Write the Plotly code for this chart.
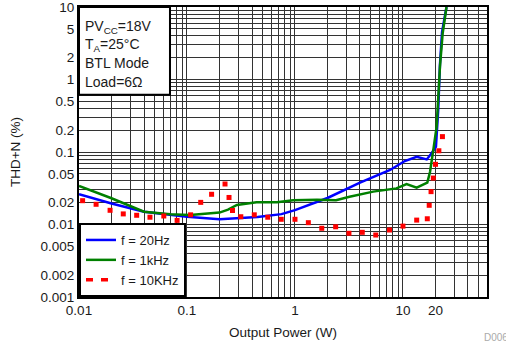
import plotly.graph_objects as go

# ---- data ----
blue_x = [0.01, 0.02, 0.04, 0.07, 0.1, 0.2, 0.3, 0.45, 0.75, 1.0, 2.0, 4.0, 7.6, 10.4, 13.4, 16.6, 18.4, 20.2, 21.2, 22.0, 23.0, 25.3]
blue_y = [0.0261, 0.0195, 0.015, 0.0137, 0.0128, 0.0118, 0.0121, 0.0127, 0.0139, 0.0158, 0.0232, 0.0378, 0.0565, 0.0751, 0.086, 0.079, 0.096, 0.118, 0.38, 1.6, 4.5, 10]

green_x = [0.01, 0.02, 0.04, 0.07, 0.107, 0.2, 0.24, 0.29, 0.44, 0.68, 0.96, 1.6, 2.4, 3.2, 5.3, 8.7, 10.8, 13.4, 16.8, 17.8, 19.1, 20.5, 22.0, 23.3, 25.3]
green_y = [0.034, 0.023, 0.015, 0.0138, 0.0135, 0.0146, 0.016, 0.0186, 0.0202, 0.0202, 0.0216, 0.022, 0.0216, 0.0242, 0.0284, 0.0315, 0.0362, 0.0322, 0.0378, 0.053, 0.107, 0.223, 1.5, 4.3, 10]

red_x = [0.0108, 0.0144, 0.0194, 0.0257, 0.0342, 0.0454, 0.061, 0.081, 0.108, 0.134, 0.169, 0.225, 0.245, 0.264, 0.315, 0.42, 0.56, 0.746, 1.0, 1.33, 1.77, 2.38, 3.16, 4.2, 5.6, 7.5, 10.0, 13.4, 16.8, 17.5, 18.2, 19.1, 20.0, 21.5, 23.2]
red_y = [0.0213, 0.019, 0.0157, 0.014, 0.0134, 0.0126, 0.0131, 0.0114, 0.0136, 0.0202, 0.0261, 0.0362, 0.0236, 0.0156, 0.0128, 0.0136, 0.0126, 0.0118, 0.0118, 0.0106, 0.00887, 0.0093, 0.00757, 0.0078, 0.00716, 0.0084, 0.0095, 0.0115, 0.012, 0.0184, 0.0284, 0.0437, 0.0676, 0.104, 0.163]

x_labels = {0.01: "0.01", 0.1: "0.1", 1: "1", 10: "10", 20: "20"}
y_labels = {0.001: "0.001", 0.002: "0.002", 0.005: "0.005", 0.01: "0.01", 0.02: "0.02",
            0.05: "0.05", 0.1: "0.1", 0.2: "0.2", 0.5: "0.5", 1: "1", 2: "2", 5: "5", 10: "10"}

series_names = ["f = 20Hz", "f = 1kHz", "f = 10KHz"]
info_lines = ["PV<sub>CC</sub>=18V", "T<sub>A</sub>=25°C", "BTL Mode", "Load=6Ω"]

# ---- grid values ----
def grid_vals(lo_dec, hi_dec, vmax):
    vals = []
    for d in range(lo_dec, hi_dec + 1):
        for m in range(1, 10):
            v = round(m * 10 ** d, 6)
            if v <= vmax + 1e-9:
                vals.append(v)
    return vals

xg = grid_vals(-2, 1, 60)
yg = grid_vals(-3, 1, 10)

def lab(v, d):
    for k, t in d.items():
        if abs(v - k) < 1e-9:
            return t
    return ""

font = "Liberation Sans, Arial, sans-serif"
tc = "#1a1a1a"

fig = go.Figure()
fig.add_trace(go.Scatter(x=blue_x, y=blue_y, mode="lines", name=series_names[0],
                         line=dict(color="#0000ff", width=2.5)))
fig.add_trace(go.Scatter(x=green_x, y=green_y, mode="lines", name=series_names[1],
                         line=dict(color="#008000", width=2.5)))
fig.add_trace(go.Scatter(x=red_x, y=red_y, mode="markers", name=series_names[2], showlegend=False,
                         marker=dict(color="#ff0000", size=5, symbol="square", line=dict(width=0))))
fig.add_trace(go.Scatter(x=[None], y=[None], mode="lines", name=series_names[2],
                         line=dict(color="#ff0000", width=3.5, dash="7px,8px")))

fig.update_xaxes(type="log", range=[-2, 1.77815], tickvals=xg, ticktext=[lab(v, x_labels) for v in xg],
                 showgrid=True, gridcolor="#333333", gridwidth=1, zeroline=False, automargin=False,
                 showline=True, linecolor="black", linewidth=2, mirror=True, ticks="",
                 ticklabeloverflow="allow",
                 tickfont=dict(size=13.5, color=tc),
                 title=dict(text="Output Power (W)", font=dict(size=13.5, color=tc), standoff=10))
fig.update_yaxes(type="log", range=[-3, 1], tickvals=yg, ticktext=[lab(v, y_labels) for v in yg],
                 showgrid=True, gridcolor="#333333", gridwidth=1, zeroline=False, automargin=False,
                 showline=True, linecolor="black", linewidth=2, mirror=True, ticks="",
                 ticklabeloverflow="allow",
                 tickfont=dict(size=13.5, color=tc),
                 title=dict(text="THD+N (%)", font=dict(size=13.5, color=tc), standoff=17))

# info box
fig.add_shape(type="rect", xref="paper", yref="paper", x0=0, x1=0.223, y0=0.697, y1=1,
              fillcolor="white", line=dict(color="black", width=2), layer="above")
ys = [0.93, 0.868, 0.806, 0.742]
for t, yy in zip(info_lines, ys):
    fig.add_annotation(text=t, xref="paper", yref="paper", x=0.01, y=yy, xanchor="left", yanchor="middle",
                       showarrow=False, font=dict(size=14, color=tc, family=font))

fig.add_annotation(text="D006", xref="paper", yref="paper", x=0.988, y=-0.14, xanchor="left", yanchor="middle",
                   showarrow=False, font=dict(size=10, color="#aaaaaa", family=font))

fig.update_layout(
    width=506, height=347,
    margin=dict(l=79, r=19, t=7, b=50),
    paper_bgcolor="white", plot_bgcolor="white",
    font=dict(family=font, size=13.5, color=tc),
    legend=dict(x=0.0, y=0.0, xanchor="left", yanchor="bottom", bgcolor="white",
                bordercolor="black", borderwidth=2, font=dict(size=13, color=tc),
                tracegroupgap=0, itemwidth=30, entrywidth=90),
)

fig.write_html("out.html", config={"displayModeBar": False},
               post_script="document.body.style.margin='0';")
